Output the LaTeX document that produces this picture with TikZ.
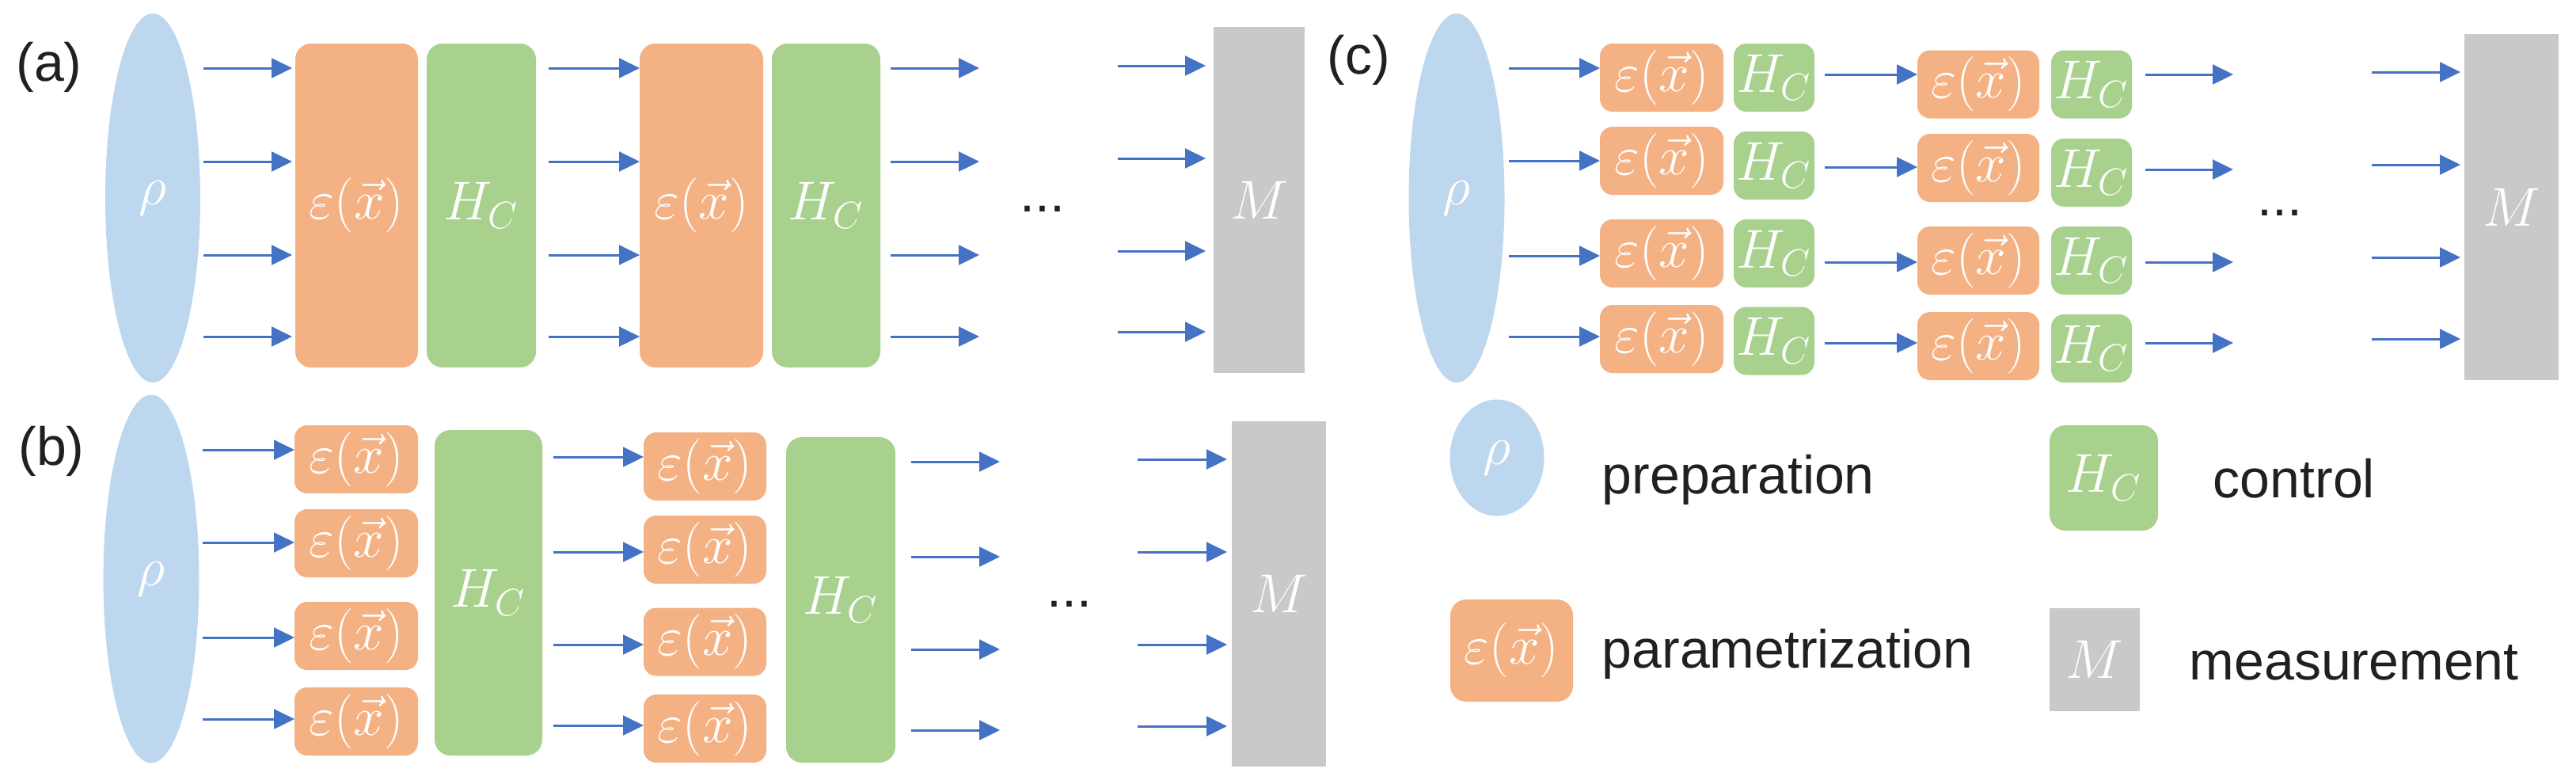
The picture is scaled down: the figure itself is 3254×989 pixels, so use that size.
\documentclass[tikz,border=0pt]{standalone}
\usepackage{fontspec}
\setmainfont{Liberation Sans}
\usetikzlibrary{arrows.meta,shapes.geometric}
\definecolor{corange}{HTML}{F4B183}
\definecolor{cgreen}{HTML}{A9D18E}
\definecolor{cblue}{HTML}{BDD7EE}
\definecolor{cgray}{HTML}{C9C9C9}
\definecolor{carrow}{HTML}{4472C4}
\definecolor{ctext}{HTML}{231F20}
\tikzset{
  sz/.style 2 args={minimum width=#1*0.25pt, minimum height=#2*0.25pt},
  basebox/.style={inner sep=0pt, outer sep=0pt, text=white, font=\fontsize{17}{20}\selectfont},
  ebox/.style={basebox, fill=corange, rounded corners=4pt},
  hbox/.style={basebox, fill=cgreen, rounded corners=4pt, font=\fontsize{18}{21}\selectfont},
  mbox/.style={basebox, fill=cgray, font=\fontsize{18}{21}\selectfont},
  rhonode/.style={basebox, ellipse, fill=cblue, font=\fontsize{18}{21}\selectfont},
  txt/.style={inner sep=0pt, text=ctext, font=\fontsize{17}{20}\selectfont},
  arr/.style={draw=carrow, line width=0.75pt, -{Triangle[length=6.5pt,width=6.2pt]}},
}
\begin{document}
\begin{tikzpicture}[x=0.25pt,y=-0.25pt]
\useasboundingbox (0,0) rectangle (3254,989);

% ---------------- panel (a)
\node[txt] (la) at (62,85) {(a)};
\node[rhonode, sz={120}{466}] (rhoA) at (193,250) {$\rho$};
\node[ebox, sz={155}{409}, rounded corners=5pt] (E1a) at (450.5,259.5) {$\varepsilon(\vec{x})$};
\node[hbox, sz={138}{409}, rounded corners=5pt] (H1a) at (608,259.5) {$H_C$};
\node[ebox, sz={156}{409}, rounded corners=5pt] (E2a) at (886,259.5) {$\varepsilon(\vec{x})$};
\node[hbox, sz={137}{409}, rounded corners=5pt] (H2a) at (1043.5,259.5) {$H_C$};
\node[mbox, sz={115}{437}] (MA) at (1590.5,252.5) {$M$};
\node[txt, anchor=base] (dotsA) at (1317,267) {...};
\coordinate (a3end) at (1237,0);
\coordinate (a4start) at (1412,0);
\foreach \y in {86,204,322,425}{
  \draw[arr, shorten <=1pt, shorten >=1pt] (rhoA.east |- 0,\y) -- (E1a.west |- 0,\y);
  \draw[arr, shorten <=4pt] (H1a.east |- 0,\y) -- (E2a.west |- 0,\y);
  \draw[arr, shorten <=3.25pt] (H2a.east |- 0,\y) -- (a3end |- 0,\y);
}
\foreach \y in {83,200,317,419}{
  \draw[arr, shorten >=2.5pt] (a4start |- 0,\y) -- (MA.west |- 0,\y);
}

% ---------------- panel (b)
\node[txt] (lb) at (65,570) {(b)};
\node[rhonode, sz={121}{465}] (rhoB) at (191,731) {$\rho$};
\foreach \i/\yc in {1/580,2/686,3/803,4/911}{
  \node[ebox, sz={156}{86}] (Eb1\i) at (450,\yc) {$\varepsilon(\vec{x})$};
}
\node[hbox, sz={136}{411}, rounded corners=5pt] (H1b) at (617,748.5) {$H_C$};
\foreach \i/\yc in {1/589,2/694,3/810.5,4/920}{
  \node[ebox, sz={155}{86}] (Eb2\i) at (890.5,\yc) {$\varepsilon(\vec{x})$};
}
\node[hbox, sz={138}{411}, rounded corners=5pt] (H2b) at (1062,757.5) {$H_C$};
\node[mbox, sz={119}{436}] (MB) at (1615.5,750) {$M$};
\node[txt, anchor=base] (dotsB) at (1351,766) {...};
\coordinate (b3end) at (1263,0);
\coordinate (b4start) at (1437,0);
\foreach \i/\y in {1/568,2/685,3/805,4/908}{
  \draw[arr, shorten <=1pt] (rhoB.east |- 0,\y) -- (Eb1\i.west |- 0,\y);
}
\foreach \i/\y in {1/577,2/697,3/814,4/916}{
  \draw[arr, shorten <=3.5pt] (H1b.east |- 0,\y) -- (Eb2\i.west |- 0,\y);
}
\foreach \y in {583,703,820,922}{
  \draw[arr, shorten <=5pt] (H2b.east |- 0,\y) -- (b3end |- 0,\y);
}
\foreach \y in {580,697,814,917}{
  \draw[arr, shorten >=1.5pt] (b4start |- 0,\y) -- (MB.west |- 0,\y);
}

% ---------------- panel (c)
\node[txt] (lc) at (1716,76) {(c)};
\node[rhonode, sz={121}{466}] (rhoC) at (1840,250) {$\rho$};
\foreach \i/\yc in {1/98,2/203,3/320,4/428}{
  \node[ebox, sz={156}{86}] (Ec1\i) at (2099,\yc) {$\varepsilon(\vec{x})$};
}
\foreach \i/\yc in {1/98,2/209,3/320,4/430.5}{
  \node[hbox, sz={102}{86}] (Hc1\i) at (2241,\yc) {$H_C$};
}
\foreach \i/\yc in {1/106.5,2/212,3/329,4/437}{
  \node[ebox, sz={154}{86}] (Ec2\i) at (2499,\yc) {$\varepsilon(\vec{x})$};
}
\foreach \i/\yc in {1/106.5,2/218,3/329,4/440}{
  \node[hbox, sz={102}{86}] (Hc2\i) at (2642,\yc) {$H_C$};
}
\node[mbox, sz={119}{437}] (MC) at (3172.5,261.5) {$M$};
\node[txt, anchor=base] (dotsC) at (2880,272) {...};
\coordinate (c3end) at (2821,0);
\coordinate (c4start) at (2996,0);
\foreach \i/\y in {1/86,2/203,3/323,4/425}{
  \draw[arr, shorten <=1.4pt] (rhoC.east |- 0,\y) -- (Ec1\i.west |- 0,\y);
}
\foreach \i/\y in {1/94,2/211,3/331,4/433}{
  \draw[arr, shorten <=3.25pt] (Hc1\i.east |- 0,\y) -- (Ec2\i.west |- 0,\y);
}
\foreach \i/\y in {1/94,2/214,3/331,4/433}{
  \draw[arr, shorten <=4.25pt] (Hc2\i.east |- 0,\y) -- (c3end |- 0,\y);
}
\foreach \y in {91,208,325,428}{
  \draw[arr, shorten >=1.25pt] (c4start |- 0,\y) -- (MC.west |- 0,\y);
}

% ---------------- legend
\node[rhonode, sz={119}{147}] (Lrho) at (1891,578) {$\rho$};
\node[txt, anchor=base west] (Lprep) at (2023,623) {preparation};
\node[hbox, sz={137}{133}, rounded corners=5pt] (LH) at (2657.5,603.5) {$H_C$};
\node[txt, anchor=base west] (Lctrl) at (2795,628) {control};
\node[ebox, sz={155}{129}, rounded corners=5pt] (LE) at (1909.5,821.5) {$\varepsilon(\vec{x})$};
\node[txt, anchor=base west] (Lpar) at (2023,843) {parametrization};
\node[mbox, sz={114}{130}] (LM) at (2646,833) {$M$};
\node[txt, anchor=base west] (Lmeas) at (2765,858) {measurement};
\end{tikzpicture}
\end{document}
